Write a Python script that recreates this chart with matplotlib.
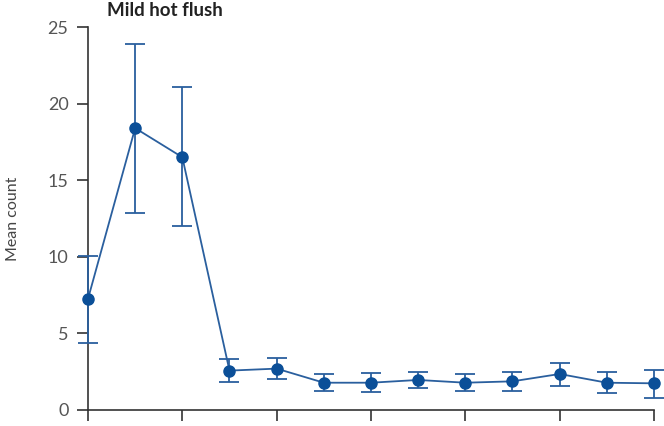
import matplotlib.pyplot as plt

# Mean count per visit with confidence limits
visits = list(range(13))
mean_count = [7.25, 18.4, 16.5, 2.57, 2.7, 1.78, 1.78, 1.96, 1.78, 1.87, 2.35, 1.78, 1.74]
upper = [10.05, 23.9, 21.1, 3.3, 3.4, 2.33, 2.42, 2.46, 2.33, 2.46, 3.09, 2.46, 2.63]
lower = [4.37, 12.85, 12.0, 1.83, 2.0, 1.24, 1.17, 1.42, 1.26, 1.26, 1.55, 1.11, 0.76]
y_ticks = [0, 5, 10, 15, 20, 25]

err_low = [m - lo for m, lo in zip(mean_count, lower)]
err_high = [hi - m for m, hi in zip(mean_count, upper)]

plt.rcParams['font.family'] = ['Lato', 'DejaVu Sans']

fig = plt.figure(figsize=(6.64, 4.26), dpi=100)
ax = fig.add_axes([0.1325, 0.0376, 0.8524, 0.899])

ax.errorbar(visits, mean_count, yerr=[err_low, err_high], color='#2a5f9e',
            linewidth=1.3, elinewidth=1.3, capsize=7, capthick=1.3,
            marker='o', markersize=8, markerfacecolor='#0b4f98',
            markeredgecolor='#0b4f98', clip_on=False, zorder=3)

ax.set_xlim(0, 12)
ax.set_ylim(0, 25)
ax.set_xticks(range(0, 13, 2))
ax.set_xticklabels([])
ax.set_yticks(y_ticks)
ax.tick_params(axis='both', direction='out', length=8, width=1.2, color='#333333',
               labelsize=13, labelcolor='#555555', pad=6)
for side in ['top', 'right']:
    ax.spines[side].set_visible(False)
for side in ['left', 'bottom']:
    ax.spines[side].set_color('#333333')
    ax.spines[side].set_linewidth(1.2)

ax.set_ylabel('Mean count', fontsize=11.5, color='#444444', labelpad=20)
fig.text(0.161, 0.975, 'Mild hot flush', fontsize=13.5, fontweight='bold',
         color='#222222', ha='left', va='center')

fig.savefig('out.png', dpi=100)
